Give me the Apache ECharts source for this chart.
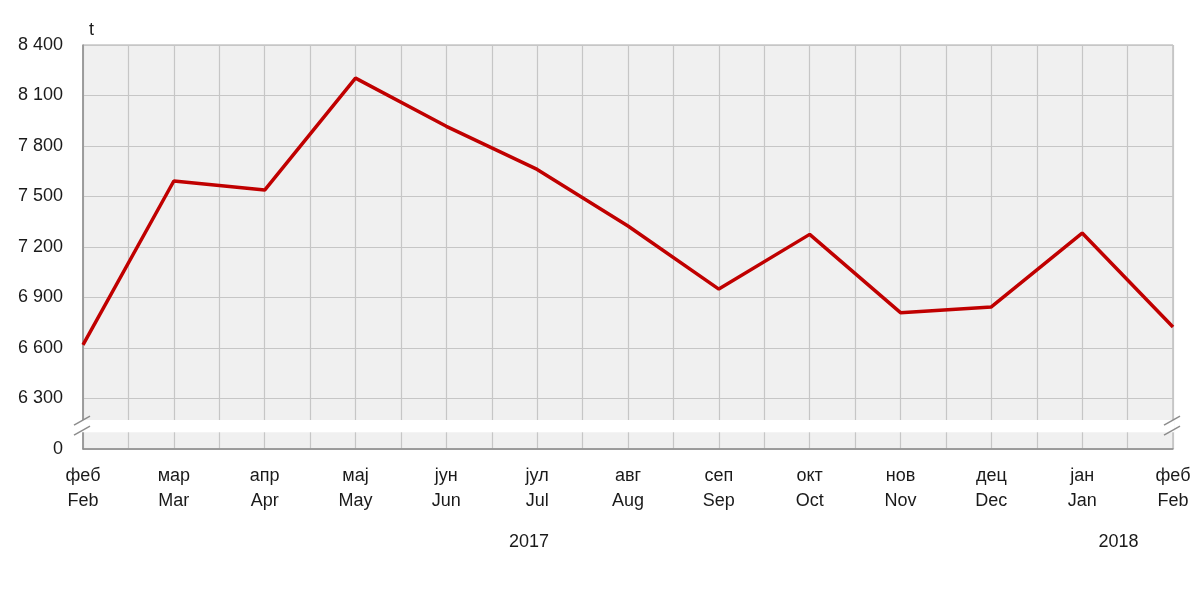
<!DOCTYPE html>
<html><head><meta charset="utf-8">
<script src="https://cdn.jsdelivr.net/npm/echarts@6/dist/echarts.min.js"></script>
<style>html,body{margin:0;padding:0;background:#fff}#c{width:1191px;height:611px}</style>
</head><body><div id="c"></div>
<script>
const monthsSr = ['феб','мар','апр','мај','јун','јул','авг','сеп','окт','нов','дец','јан','феб'];
const monthsEn = ['Feb','Mar','Apr','May','Jun','Jul','Aug','Sep','Oct','Nov','Dec','Jan','Feb'];
const values = [6618, 7592, 7538, 8203, 7917, 7661, 7325, 6950, 7275, 6810, 6844, 7283, 6725];
const yearLabels = ['2017', '2018'];
const yearPos = [4.91, 11.4];
const yMin = 6000, yMax = 8400, yStep = 300;

const FONT = '"Liberation Sans Narrow", "Liberation Sans", Arial, sans-serif';
const chart = echarts.init(document.getElementById('c'));
const fmt = v => v === yMin ? '0' : String(v).replace(/\B(?=(\d{3})+(?!\d))/g, ' ');

chart.setOption({
  animation: false,
  grid: { left: 83, right: 18, top: 45, bottom: 162, outerBoundsMode: 'none', containLabel: false, show: true, backgroundColor: '#f0f0f0', borderColor: '#a8a8a8', borderWidth: 1 },
  xAxis: {
    type: 'value', min: 0, max: monthsEn.length - 1, interval: 0.5,
    axisLine: { show: true, lineStyle: { color: '#8c8c8c', width: 1.5 } },
    axisTick: { show: false },
    splitLine: { show: true, lineStyle: { color: '#c6c6c6', width: 1.2 } },
    axisLabel: {
      margin: 15, fontFamily: FONT, fontSize: 18, color: '#1a1a1a', lineHeight: 25,
      showMinLabel: true, showMaxLabel: true,
      formatter: v => Number.isInteger(v) ? monthsSr[v] + '\n' + monthsEn[v] : ''
    }
  },
  yAxis: {
    type: 'value', min: yMin, max: yMax, interval: yStep,
    name: 't', nameLocation: 'end', nameGap: 6,
    nameTextStyle: { fontFamily: FONT, fontSize: 18, color: '#1a1a1a', align: 'left', padding: [0, 0, 0, 6] },
    axisLine: { show: true, lineStyle: { color: '#8c8c8c', width: 1.5 } },
    axisTick: { show: false },
    splitLine: { show: true, lineStyle: { color: '#c6c6c6', width: 1.2 } },
    axisLabel: { margin: 20, fontFamily: FONT, fontSize: 18, color: '#1a1a1a', formatter: fmt }
  },
  series: [{
    type: 'line', data: values.map((v, i) => [i, v]), showSymbol: false, symbol: 'none',
    lineStyle: { color: '#c00000', width: 3.5 }, z: 3
  }]
});

function drawExtras() {
  const p = (x, y) => chart.convertToPixel({ gridIndex: 0 }, [x, y]);
  const left = p(0, yMin)[0], right = p(monthsEn.length - 1, yMin)[0];
  const yTop = p(0, 6172)[1], yBot = p(0, 6100)[1];
  const mid = (yTop + yBot) / 2;
  const els = [];
  els.push({ type: 'rect', shape: { x: left - 1, y: yTop, width: right - left + 2, height: yBot - yTop }, style: { fill: '#ffffff' }, z: 100 });
  [left, right].forEach(x => {
    [-5, 5].forEach(d => {
      els.push({ type: 'line', shape: { x1: x - 9, y1: mid + d + 4, x2: x + 7, y2: mid + d - 5 }, style: { stroke: '#8c8c8c', lineWidth: 1.5 }, z: 101 });
    });
  });
  yearLabels.forEach((t, i) => {
    const xy = p(yearPos[i], yMin);
    els.push({ type: 'text', x: xy[0], y: 542, style: { text: t, fontFamily: FONT, fontSize: 18, fill: '#1a1a1a', align: 'center', verticalAlign: 'middle' }, z: 101 });
  });
  chart.setOption({ graphic: els });
}
drawExtras();
</script></body></html>
